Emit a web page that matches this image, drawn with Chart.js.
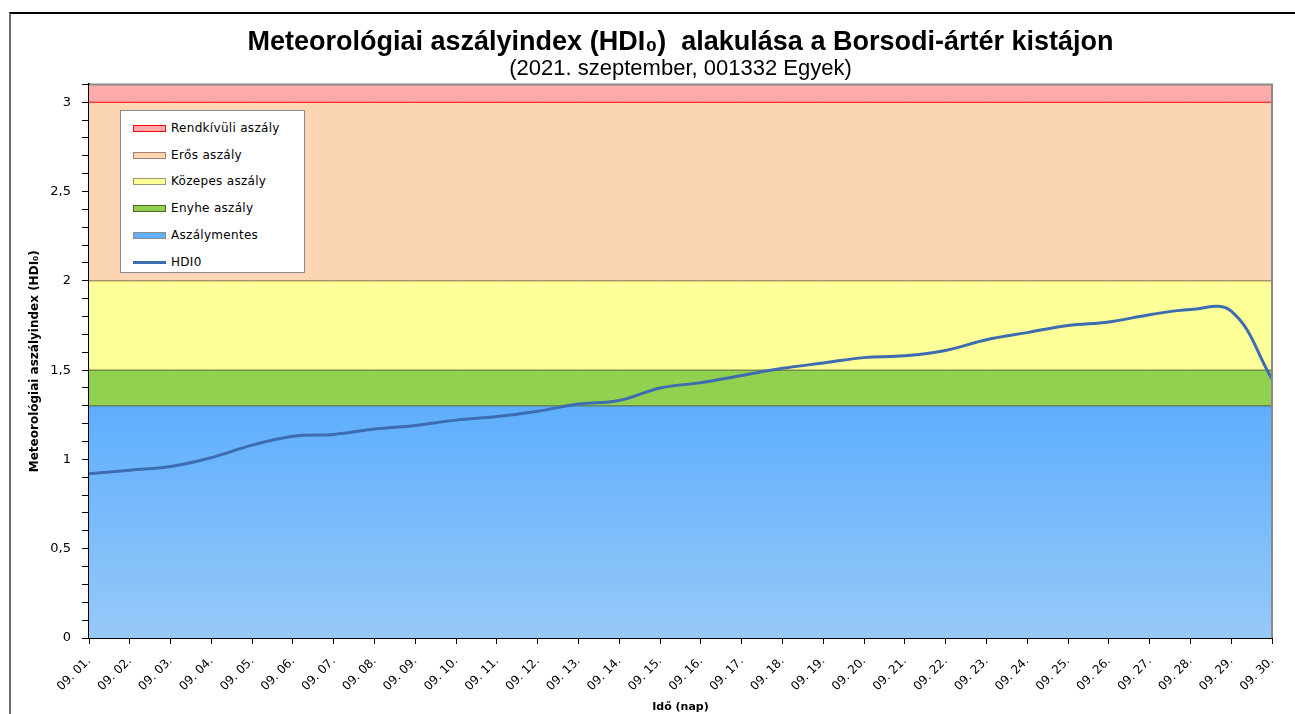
<!DOCTYPE html>
<html>
<head>
<meta charset="utf-8">
<script src="https://cdn.jsdelivr.net/npm/chart.js@4"></script>
<style>
    body { margin: 0; background: #fff; }
    #wrap { position: relative; width: 1295px; height: 714px; }
    #frame { position: absolute; left: 9px; top: 12px; right: -10px; bottom: -10px; border-top: 2px solid #000; border-left: 2px solid #6e6e6e; pointer-events: none; }
    #legend { position: absolute; left: 120px; top: 110px; width: 183px; height: 161px; background: #fff; border: 1px solid #8a8a8a; font-family: "DejaVu Sans", sans-serif; font-size: 12px; color: #000; }
    .item { position: absolute; left: 12px; height: 16px; line-height: 16px; white-space: nowrap; letter-spacing: 0.3px; }
    .sw { display: inline-block; width: 33px; height: 7px; vertical-align: middle; margin-right: 5px; box-sizing: border-box; }
</style>
</head>
<body>
<div id="wrap">
    <canvas id="chart"></canvas>
    <div id="frame"></div>
    <div id="legend"></div>
</div>
<script>
const days = ['09. 01.', '09. 02.', '09. 03.', '09. 04.', '09. 05.', '09. 06.', '09. 07.', '09. 08.', '09. 09.', '09. 10.',
    '09. 11.', '09. 12.', '09. 13.', '09. 14.', '09. 15.', '09. 16.', '09. 17.', '09. 18.', '09. 19.', '09. 20.',
    '09. 21.', '09. 22.', '09. 23.', '09. 24.', '09. 25.', '09. 26.', '09. 27.', '09. 28.', '09. 29.', '09. 30.'];

const hdi0 = [0.92, 0.94, 0.96, 1.01, 1.08, 1.13, 1.14, 1.17, 1.19, 1.22,
    1.24, 1.27, 1.31, 1.33, 1.40, 1.43, 1.47, 1.51, 1.54, 1.57,
    1.58, 1.61, 1.67, 1.71, 1.75, 1.77, 1.81, 1.84, 1.83, 1.45];

// aszály kategóriák felső határa (alulról felfelé)
const bandNames = ['Aszálymentes', 'Enyhe aszály', 'Közepes aszály', 'Erős aszály', 'Rendkívüli aszály'];
const bandTops = [1.3, 1.5, 2, 3, 3.1];
const bandFill = ['#62b0ff', '#92d050', '#ffff99', '#fcd5b5', '#ffabab'];
const bandLine = ['#4f6228', '#4f6228', '#7f6a4a', '#ff0000', '#a08a8a'];
const legendBorder = ['#8c8c8c', '#4f6228', '#9a9a70', '#a0826a', '#ff0000'];

const yMin = 0;
const yMax = 3.1;

function blueGradient(context) {
    const chart = context.chart;
    const area = chart.chartArea;
    if (!area) return bandFill[0];
    const y = chart.scales.y;
    const g = chart.ctx.createLinearGradient(0, y.getPixelForValue(bandTops[0]), 0, y.getPixelForValue(0));
    g.addColorStop(0, '#5eaefe');
    g.addColorStop(1, '#97c9f8');
    return g;
}

const datasets = [{
    label: 'HDI0',
    data: hdi0,
    borderColor: '#3d6cb0',
    borderWidth: 3,
    pointRadius: 0,
    tension: 0.4,
    fill: false
}];

bandNames.forEach((name, i) => {
    datasets.push({
        label: name,
        data: days.map(() => bandTops[i]),
        borderColor: bandLine[i],
        borderWidth: 1,
        pointRadius: 0,
        tension: 0,
        backgroundColor: i === 0 ? blueGradient : bandFill[i],
        fill: i === 0 ? 'origin' : '-1'
    });
});

const plotFrame = {
    id: 'plotFrame',
    afterDatasetsDraw(chart) {
        const { ctx, chartArea } = chart;
        ctx.save();
        ctx.strokeStyle = '#8a8a8a';
        ctx.lineWidth = 2;
        ctx.beginPath();
        ctx.moveTo(chartArea.left, chartArea.top);
        ctx.lineTo(chartArea.right, chartArea.top);
        ctx.lineTo(chartArea.right, chartArea.bottom);
        ctx.stroke();
        ctx.restore();
    }
};

new Chart(document.getElementById('chart'), {
    type: 'line',
    data: { labels: days, datasets },
    plugins: [plotFrame],
    options: {
        responsive: true,
        maintainAspectRatio: false,
        animation: false,
        layout: { padding: { left: 10, right: 23, top: 0, bottom: 0 } },
        plugins: {
            legend: { display: false },
            tooltip: { enabled: false },
            title: {
                display: true,
                fullSize: false,
                text: 'Meteorológiai aszályindex (HDI₀)  alakulása a Borsodi-ártér kistájon',
                color: '#000',
                font: { family: 'Liberation Sans', size: 27, weight: 'bold', lineHeight: 1.2 },
                padding: { top: 26, bottom: 0 }
            },
            subtitle: {
                display: true,
                fullSize: false,
                text: '(2021. szeptember, 001332 Egyek)',
                color: '#000',
                font: { family: 'Liberation Sans', size: 22, lineHeight: 1 },
                padding: { top: 0, bottom: 4 }
            }
        },
        scales: {
            x: {
                grid: { drawOnChartArea: false, color: '#000', tickLength: 6 },
                border: { color: '#000', width: 2 },
                ticks: {
                    color: '#000',
                    font: { family: 'DejaVu Sans', size: 12 },
                    minRotation: 45,
                    maxRotation: 45,
                    autoSkip: false,
                    padding: 10
                },
                title: {
                    display: true,
                    text: 'Idő (nap)',
                    color: '#000',
                    font: { family: 'DejaVu Sans', size: 11, weight: 'bold' },
                    padding: { top: 0, bottom: 0 }
                },
                afterFit(scale) { scale.height = 76; }
            },
            y: {
                min: yMin,
                max: yMax,
                grid: { drawOnChartArea: false, color: '#000', tickLength: 7 },
                border: { color: '#000', width: 2 },
                ticks: {
                    stepSize: 0.1,
                    autoSkip: false,
                    color: '#000',
                    padding: 11,
                    font: { family: 'DejaVu Sans', size: 13 },
                    callback(value) {
                        const v = Math.round(value * 10) / 10;
                        if (Math.abs(v * 2 - Math.round(v * 2)) > 1e-6) return '';
                        return String(v).replace('.', ',');
                    }
                },
                title: {
                    display: true,
                    text: 'Meteorológiai aszályindex (HDI₀)',
                    color: '#000',
                    font: { family: 'DejaVu Sans', size: 12, weight: 'bold' },
                    padding: { top: 18, bottom: 0 }
                },
                afterFit(scale) { scale.width = 79; }
            }
        }
    }
});

// jelmagyarázat a diagramterületen belül
const legendEl = document.getElementById('legend');
const legendOrder = [4, 3, 2, 1, 0];
legendOrder.forEach((bi, row) => {
    const item = document.createElement('div');
    item.className = 'item';
    item.style.top = (9 + row * 26.7) + 'px';
    item.innerHTML = `<span class="sw" style="background:${bandFill[bi]};border:1.5px solid ${legendBorder[bi]}"></span>${bandNames[bi]}`;
    legendEl.appendChild(item);
});
const lineItem = document.createElement('div');
lineItem.className = 'item';
lineItem.style.top = (9 + 5 * 26.7) + 'px';
lineItem.innerHTML = `<span class="sw" style="height:3px;background:#3d6cb0"></span>HDI0`;
legendEl.appendChild(lineItem);
</script>
</body>
</html>
